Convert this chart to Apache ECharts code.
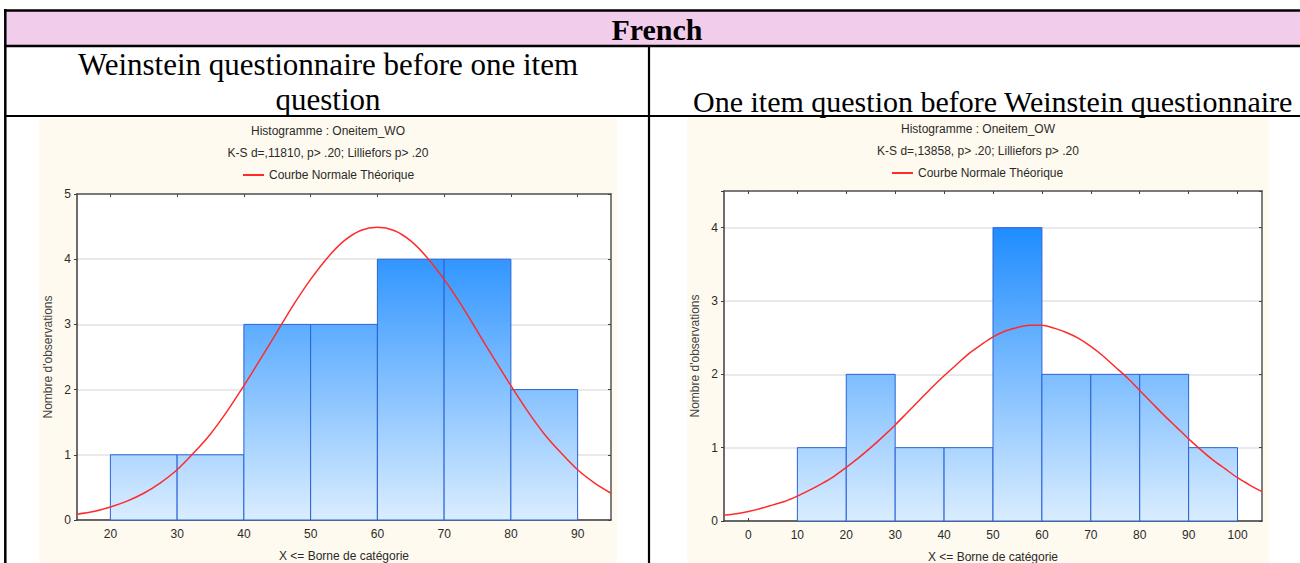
<!DOCTYPE html>
<html><head><meta charset="utf-8">
<script src="https://cdn.jsdelivr.net/npm/echarts@6/dist/echarts.min.js"></script>
<style>html,body{margin:0;padding:0;background:#fff}#c{width:1300px;height:563px}</style>
</head><body><div id="c"></div>
<script>
// ---- Table texts ----
const tableHeader = 'French';
const leftCaption = 'Weinstein questionnaire before one item\nquestion';
const rightCaption = 'One item question before Weinstein questionnaire';

// ---- Left histogram: Oneitem_WO ----
const titleWO = 'Histogramme : Oneitem_WO';
const statsWO = 'K-S d=,11810, p> .20; Lilliefors p> .20';
const binStartWO = [20, 30, 40, 50, 60, 70, 80];
const binEndWO   = [30, 40, 50, 60, 70, 80, 90];
const countsWO   = [1, 1, 3, 3, 4, 4, 2];
const curveXWO = [15, 17.5, 20, 22.5, 25, 27.5, 30, 32.5, 35, 37.5, 40, 42.5, 45, 47.5, 50, 52.5, 55, 57.5, 60,
                  62.5, 65, 67.5, 70, 72.5, 75, 77.5, 80, 82.5, 85, 87.5, 90, 92.5, 95];
const curveYWO = [0.09, 0.13, 0.20, 0.29, 0.41, 0.57, 0.77, 1.03, 1.32, 1.67, 2.06, 2.47, 2.89, 3.31, 3.69, 4.02, 4.28, 4.44, 4.49,
                  4.44, 4.28, 4.02, 3.69, 3.31, 2.89, 2.47, 2.06, 1.67, 1.32, 1.03, 0.77, 0.57, 0.41];
const xTicksWO = [20, 30, 40, 50, 60, 70, 80, 90];
const xRangeWO = [15, 95];
const yMaxWO = 5;

// ---- Right histogram: Oneitem_OW ----
const titleOW = 'Histogramme : Oneitem_OW';
const statsOW = 'K-S d=,13858, p> .20; Lilliefors p> .20';
const binStartOW = [10, 20, 30, 40, 50, 60, 70, 80, 90];
const binEndOW   = [20, 30, 40, 50, 60, 70, 80, 90, 100];
const countsOW   = [1, 2, 1, 1, 4, 2, 2, 2, 1];
const curveXOW = [-5, -2.5, 0, 2.5, 5, 7.5, 10, 12.5, 15, 17.5, 20, 22.5, 25, 27.5, 30, 32.5, 35, 37.5, 40, 42.5, 45, 47.5, 50,
                  52.5, 55, 57.5, 60, 62.5, 65, 67.5, 70, 72.5, 75, 77.5, 80, 82.5, 85, 87.5, 90, 92.5, 95, 97.5, 100, 102.5, 105];
const curveYOW = [0.08, 0.10, 0.13, 0.17, 0.22, 0.27, 0.34, 0.42, 0.51, 0.61, 0.73, 0.86, 1.00, 1.15, 1.31, 1.48, 1.65, 1.82, 1.98, 2.13, 2.28, 2.40, 2.51,
                  2.59, 2.64, 2.67, 2.67, 2.63, 2.57, 2.49, 2.38, 2.25, 2.10, 1.95, 1.78, 1.61, 1.44, 1.28, 1.12, 0.97, 0.83, 0.71, 0.59, 0.49, 0.40];
const xTicksOW = [0, 10, 20, 30, 40, 50, 60, 70, 80, 90, 100];
const xRangeOW = [-5, 105];
const yMaxOW = 4.5;

const legendName = 'Courbe Normale Théorique';
const xName = 'X <= Borne de catégorie';
const yName = "Nombre d'observations";

// ---- styling ----
const SANS = "'Liberation Sans', Arial, sans-serif";
const SERIF = "'Liberation Serif', 'Times New Roman', serif";
const TXT = '#2a2a2a';
const TOP_C = [8, 128, 255];
const BOT_C = [218, 237, 255];
function mix(t) {
  const c = TOP_C.map((v, i) => Math.round(BOT_C[i] + (v - BOT_C[i]) * t));
  return 'rgb(' + c.join(',') + ')';
}
function makeRender(yMax) {
  return function (params, api) {
    const x0 = api.value(0), x1 = api.value(1), c = api.value(2);
    const p0 = api.coord([x0, c]), p1 = api.coord([x1, 0]);
    return {
      type: 'rect',
      shape: { x: p0[0], y: p0[1], width: p1[0] - p0[0], height: p1[1] - p0[1] },
      style: {
        fill: new echarts.graphic.LinearGradient(0, 0, 0, 1, [
          { offset: 0, color: mix(c / yMax) }, { offset: 1, color: mix(0) }]),
        stroke: '#2a62d6', lineWidth: 1
      }
    };
  };
}
function bins(s, e, c) { return s.map((v, i) => [v, e[i], c[i]]); }
function pts(x, y) { return x.map((v, i) => [v, y[i]]); }

function xAxes(g, range, ticks) {
  return [
    { type: 'value', gridIndex: g, position: 'bottom', min: range[0], max: range[1],
      name: xName, nameLocation: 'middle', nameGap: 30,
      nameTextStyle: { fontFamily: SANS, fontSize: 12, color: TXT },
      axisLine: { onZero: false, lineStyle: { color: '#3c3c3c', width: 1.5 } },
      axisTick: { inside: true, length: 3, customValues: ticks, lineStyle: { color: '#3c3c3c' } },
      axisLabel: { customValues: ticks, margin: 8, fontFamily: SANS, fontSize: 12, color: TXT },
      splitLine: { show: false } },
    { type: 'value', gridIndex: g, position: 'top', min: range[0], max: range[1],
      axisLine: { onZero: false, lineStyle: { color: '#555', width: 1.5 } },
      axisTick: { inside: true, length: 3, customValues: ticks, lineStyle: { color: '#444' } },
      axisLabel: { show: false }, splitLine: { show: false } }
  ];
}
function yAxes(g, yMax) {
  return [
    { type: 'value', gridIndex: g, position: 'left', min: 0, max: yMax, interval: 1,
      name: yName, nameLocation: 'middle', nameRotate: 90, nameGap: 23,
      nameTextStyle: { fontFamily: SANS, fontSize: 12, color: '#444' },
      axisLine: { onZero: false, show: true, lineStyle: { color: '#3c3c3c', width: 1.5 } },
      axisTick: { show: true, length: 3, lineStyle: { color: '#3c3c3c' } },
      axisLabel: { margin: 6, fontFamily: SANS, fontSize: 12, color: TXT,
        formatter: v => (Number.isInteger(v) ? String(v) : '') },
      splitLine: { show: true, lineStyle: { color: '#e2e2e2', width: 1.5 } } },
    { type: 'value', gridIndex: g, position: 'right', min: 0, max: yMax, interval: 1,
      axisLine: { onZero: false, show: true, lineStyle: { color: '#555', width: 1.5 } },
      axisTick: { show: true, inside: true, length: 3, lineStyle: { color: '#444' } },
      axisLabel: { show: false }, splitLine: { show: false } }
  ];
}

const chart = echarts.init(document.getElementById('c'), null, { renderer: 'svg' });
chart.setOption({
  animation: false,
  backgroundColor: '#fff',
  graphic: [
    // chart panels
    { type: 'rect', z: -10, shape: { x: 39, y: 118, width: 578, height: 445 }, style: { fill: '#fffaef' } },
    { type: 'rect', z: -10, shape: { x: 687, y: 116, width: 582, height: 447 }, style: { fill: '#fffaef' } },
    // table
    { type: 'rect', z: -10, shape: { x: 5, y: 11, width: 1295, height: 35 }, style: { fill: '#f2cdeb' } },
    { type: 'line', shape: { x1: 4, y1: 10.5, x2: 1300, y2: 10.5 }, style: { stroke: '#000', lineWidth: 2.5 } },
    { type: 'line', shape: { x1: 4, y1: 46, x2: 1300, y2: 46 }, style: { stroke: '#000', lineWidth: 2.5 } },
    { type: 'line', shape: { x1: 4, y1: 116, x2: 1300, y2: 116 }, style: { stroke: '#000', lineWidth: 2 } },
    { type: 'line', shape: { x1: 5.3, y1: 9, x2: 5.3, y2: 563 }, style: { stroke: '#000', lineWidth: 2.5 } },
    { type: 'line', shape: { x1: 649, y1: 46, x2: 649, y2: 563 }, style: { stroke: '#000', lineWidth: 2.2 } },
    { type: 'text', style: { text: tableHeader, x: 657, y: 29, textAlign: 'center', textVerticalAlign: 'middle',
        font: 'bold 30px ' + SERIF, fill: '#000' } },
    { type: 'text', style: { text: leftCaption, x: 328, y: 82, textAlign: 'center', textVerticalAlign: 'middle',
        font: '31px ' + SERIF, lineHeight: 35, fill: '#000' } },
    { type: 'text', style: { text: rightCaption, x: 693, y: 101, textAlign: 'left', textVerticalAlign: 'middle',
        font: '30px ' + SERIF, fill: '#000' } }
  ],
  title: [
    { text: titleWO, subtext: statsWO, left: 328, top: 124, textAlign: 'center', padding: 0, itemGap: 9,
      textStyle: { fontFamily: SANS, fontSize: 12, fontWeight: 'normal', color: TXT, lineHeight: 13 },
      subtextStyle: { fontFamily: SANS, fontSize: 12, color: TXT, lineHeight: 13 } },
    { text: titleOW, subtext: statsOW, left: 978, top: 122, textAlign: 'center', padding: 0, itemGap: 9,
      textStyle: { fontFamily: SANS, fontSize: 12, fontWeight: 'normal', color: TXT, lineHeight: 13 },
      subtextStyle: { fontFamily: SANS, fontSize: 12, color: TXT, lineHeight: 13 } }
  ],
  legend: [
    { data: [legendName], left: 243, top: 169, padding: 0, icon: 'rect', itemWidth: 21, itemHeight: 2,
      textStyle: { fontFamily: SANS, fontSize: 12, color: TXT } },
    { data: [legendName], left: 892, top: 167, padding: 0, icon: 'rect', itemWidth: 21, itemHeight: 2,
      textStyle: { fontFamily: SANS, fontSize: 12, color: TXT } }
  ],
  grid: [
    { left: 77, top: 194, width: 534, height: 326, show: true, backgroundColor: '#fff', borderWidth: 0,
      outerBoundsMode: 'none', containLabel: false },
    { left: 724, top: 191, width: 538, height: 330, show: true, backgroundColor: '#fff', borderWidth: 0,
      outerBoundsMode: 'none', containLabel: false }
  ],
  xAxis: [...xAxes(0, xRangeWO, xTicksWO), ...xAxes(1, xRangeOW, xTicksOW)],
  yAxis: [...yAxes(0, yMaxWO), ...yAxes(1, yMaxOW)],
  series: [
    { type: 'custom', name: 'Oneitem_WO', xAxisIndex: 0, yAxisIndex: 0, renderItem: makeRender(yMaxWO),
      encode: { x: [0, 1], y: 2 }, data: bins(binStartWO, binEndWO, countsWO), z: 2 },
    { type: 'line', name: legendName, xAxisIndex: 0, yAxisIndex: 0, data: pts(curveXWO, curveYWO),
      smooth: 0.3, symbol: 'none', z: 4, itemStyle: { color: '#ff2b2b' },
      lineStyle: { color: '#ff2b2b', width: 1.5 } },
    { type: 'custom', name: 'Oneitem_OW', xAxisIndex: 2, yAxisIndex: 2, renderItem: makeRender(yMaxOW),
      encode: { x: [0, 1], y: 2 }, data: bins(binStartOW, binEndOW, countsOW), z: 2 },
    { type: 'line', name: legendName, xAxisIndex: 2, yAxisIndex: 2, data: pts(curveXOW, curveYOW),
      smooth: 0.3, symbol: 'none', z: 4, itemStyle: { color: '#ff2b2b' },
      lineStyle: { color: '#ff2b2b', width: 1.5 } }
  ]
});
</script></body></html>
